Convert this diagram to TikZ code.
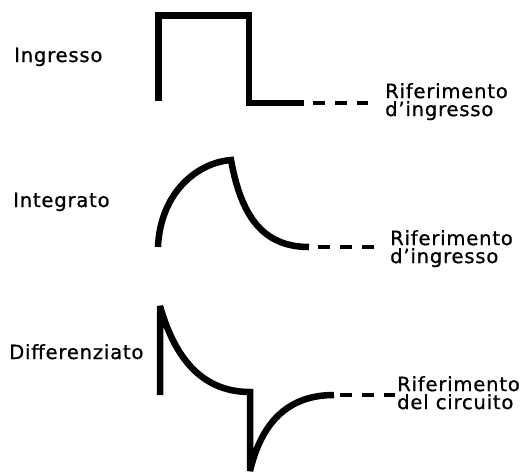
\documentclass[tikz,border=0pt]{standalone}
\usepackage{fontspec}
\setmainfont{DejaVu Sans}[LetterSpace=4, FakeBold=0.8]
\newcommand{\lbl}{\fontsize{19.6}{18}\selectfont}

\begin{document}
\begin{tikzpicture}[
    x=1pt, y=-1pt,
    wave/.style={line width=6.5pt, line join=miter},
    refline/.style={line width=4.2pt, dash pattern=on 12pt off 10pt},
    tag/.style={anchor=base west, inner sep=0pt, font=\lbl},
    reftext/.style={anchor=north west, inner sep=0pt, align=left, font=\lbl}
]
\useasboundingbox (0,0) rectangle (526,471);

% Labels
\node[tag] (inLbl) at (14,62) {Ingresso};
\node[tag] (intLbl) at (13,207) {Integrato};
\node[tag] (difLbl) at (9,359) {Differenziato};

\node[reftext] (inRef) at (385,83) {Riferimento\\d’ingresso};
\node[reftext] (intRef) at (390,230) {Riferimento\\d’ingresso};
\node[reftext] (difRef) at (397,376) {Riferimento\\del circuito};

% Waveforms
\draw[wave] (158.5,101) -- (158.5,15.5) -- (249,15.5) -- (249,103) -- (304,103) coordinate (inEnd);
\draw[wave] (158,247) .. controls (160,195) and (195,163) .. (231,160)
    .. controls (241,215) and (262,247) .. (309,247) coordinate (intEnd);
\draw[wave, miter limit=2] (160,395) -- (160,306) .. controls (173,352) and (198,392) .. (250,392)
    -- (250,471) .. controls (262,420) and (290,395) .. (334,395) coordinate (difEnd);

% Reference lines
\draw[refline, shorten <=9pt, shorten >=17pt] (inEnd) -- (inEnd -| inRef.west);
\draw[refline, shorten <=9pt, shorten >=15pt] (intEnd) -- (intEnd -| intRef.west);
\draw[refline, shorten <=6pt, shorten >=2pt] (difEnd) -- (difEnd -| difRef.west);

\end{tikzpicture}
\end{document}
